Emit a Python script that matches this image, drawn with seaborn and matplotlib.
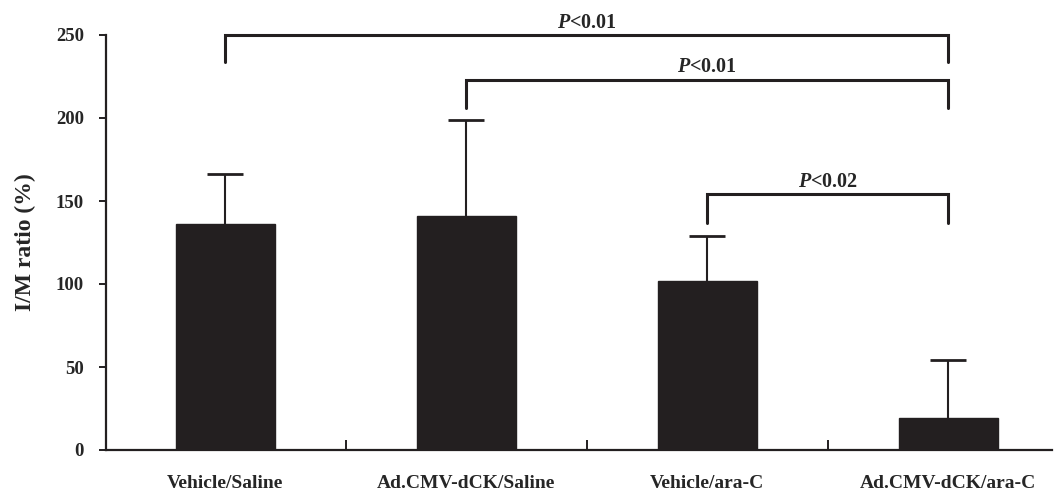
import matplotlib
matplotlib.use("Agg")
import matplotlib.pyplot as plt
import seaborn as sns
import numpy as np
import pandas as pd

categories = ["Vehicle/Saline", "Ad.CMV-dCK/Saline", "Vehicle/ara-C", "Ad.CMV-dCK/ara-C"]
means = [136, 141, 102, 19]
errors = [30, 58, 27, 35]
y_ticks = [0, 50, 100, 150, 200, 250]
# comparisons: (from index, to index, bracket height, leg bottom, label)
comparisons = [
    (0, 3, 250, 234, "<0.01"),
    (1, 3, 223, 206, "<0.01"),
    (2, 3, 154, 137, "<0.02"),
]

sns.set_style("white")
plt.rcParams["font.family"] = ["Liberation Serif", "DejaVu Serif"]
plt.rcParams["font.weight"] = "bold"
plt.rcParams["mathtext.fontset"] = "custom"
plt.rcParams["mathtext.it"] = "Liberation Serif:italic:bold"
plt.rcParams["mathtext.rm"] = "Liberation Serif:bold"
plt.rcParams["mathtext.bf"] = "Liberation Serif:bold"

INK = "#231f20"

fig = plt.figure(figsize=(10.56, 4.92), dpi=100)
ax = fig.add_axes([106 / 1056, 1 - 450 / 492, (1052 - 106) / 1056, 415 / 492])

df = pd.DataFrame({"group": categories, "value": means})
sns.barplot(data=df, x="group", y="value", color=INK, saturation=1,
            width=0.41, ax=ax, errorbar=None, edgecolor=INK, zorder=3)

x = np.arange(len(categories))
tops = np.array(means) + np.array(errors)
cap = 0.075
ax.vlines(x, means, tops, color=INK, lw=1.5, zorder=2)
ax.hlines(tops, x - cap, x + cap, color=INK, lw=2, zorder=2)

ax.set_ylim(0, 250)
ax.set_xlim(-0.495, 3.43)
ax.set_yticks(y_ticks)
ax.set_yticklabels([str(t) for t in y_ticks], fontsize=13.5, fontweight="bold")
ax.set_xticks(x)
ax.set_xticklabels(categories, fontsize=14, fontweight="bold")
ax.tick_params(axis="x", which="major", bottom=True, length=0, pad=18)
ax.set_xticks([0.5, 1.5, 2.5], minor=True)
ax.tick_params(axis="x", which="minor", bottom=True, direction="in", length=7, width=1.4, color=INK)
ax.tick_params(axis="y", which="major", left=True, direction="out", length=5, width=1.4, color=INK, pad=11)
ax.set_xlabel("")
ax.set_ylabel("I/M ratio (%)", fontsize=17, fontweight="bold", labelpad=14)

for s in ["top", "right"]:
    ax.spines[s].set_visible(False)
for s in ["left", "bottom"]:
    ax.spines[s].set_linewidth(1.6)
    ax.spines[s].set_color(INK)

for i, j, h, leg, lab in comparisons:
    ax.plot([i, i, j, j], [leg, h, h, leg], color=INK, lw=2.2, clip_on=False,
            solid_joinstyle="miter")
    ax.text((i + j) / 2, h + 4.5, "$P$" + lab, ha="center", va="baseline",
            fontsize=14.5, fontweight="bold")

fig.savefig("out.png", dpi=100, facecolor="white")
